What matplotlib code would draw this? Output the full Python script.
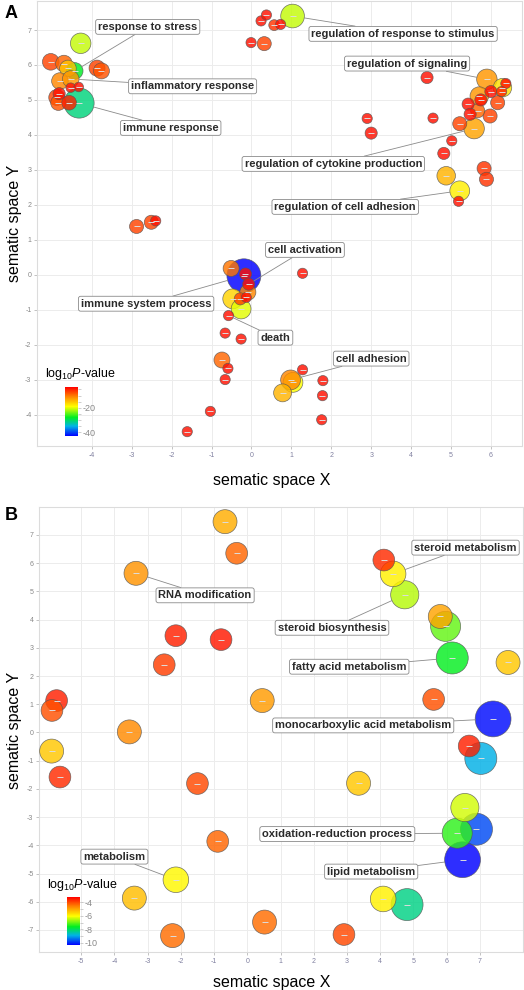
import numpy as np
import matplotlib
matplotlib.use("Agg")
import matplotlib.pyplot as plt
from matplotlib.colors import LinearSegmentedColormap

plt.rcParams['font.family'] = ['Liberation Sans', 'DejaVu Sans']
plt.rcParams['mathtext.fontset'] = 'custom'
plt.rcParams['mathtext.rm'] = 'Liberation Sans'
plt.rcParams['mathtext.it'] = 'Liberation Sans:italic'
plt.rcParams['axes.unicode_minus'] = False

# ---- Panel A data (semantic x, semantic y, log10 p, log size) ----
A_x = [-4.28, -5.03, -4.70, -4.43, -4.60, -4.80, -4.53, -4.53, -4.33, -3.87,
       -3.76, -4.88, -4.82, -4.84, -4.57, -4.32, -2.88, -2.51, -2.40, 0.24,
       0.375, 0.57, 0.73, 1.03, -0.01, 0.32, 4.40, 5.90, 6.29, 6.375,
       5.71, 6.00, 6.27, 5.75, 6.17, 5.43, 5.48, 5.98, 5.67, 5.22,
       5.58, 2.90, 3.00, 4.55, 5.02, 4.82, 4.88, 5.83, 5.89, 5.22,
       5.19, -0.19, -0.51, -0.15, -0.07, -0.09, -0.47, -0.26, -0.28, -0.13,
       -0.575, -0.66, -0.26, -0.74, -0.59, -0.66, -1.03, -1.61, 1.28, 1.28,
       1.04, 0.98, 0.78, 1.79, 1.78, 1.76]
A_y = [6.62, 6.09, 6.04, 5.83, 5.90, 5.54, 5.60, 5.35, 5.37, 5.91,
       5.83, 5.07, 5.18, 4.92, 4.92, 4.91, 1.38, 1.50, 1.54, 7.26,
       7.43, 7.14, 7.16, 7.40, 6.64, 6.61, 5.64, 5.59, 5.35, 5.47,
       5.11, 5.24, 5.24, 5.00, 4.92, 4.88, 4.59, 4.54, 4.69, 4.32,
       4.18, 4.47, 4.05, 4.48, 3.83, 3.47, 2.83, 3.04, 2.73, 2.40,
       2.10, -0.03, 0.18, 0.02, -0.27, -0.50, -0.69, -0.98, -0.69, -0.65,
       -1.17, -1.67, -1.84, -2.44, -2.68, -3.00, -3.91, -4.49, 0.04, -2.72,
       -3.08, -3.01, -3.38, -3.03, -3.46, -4.15]
A_logp = [-21, -7, -9, -28, -15, -11, -12, -4, -4, -7,
          -8, -7, -4, -8, -5, -31, -7, -7, -4, -4,
          -4, -6, -4, -21, -4, -7, -4, -12, -17, -4,
          -12, -4, -5, -4, -7, -4, -4, -7, -9, -7,
          -13, -4, -4, -4, -4, -4, -14, -6, -6, -18,
          -4, -43, -10, -4, -4, -11, -16, -20, -7, -4,
          -4, -4, -4, -9, -4, -4, -4, -4, -4, -4,
          -19, -11, -14, -4, -4, -4]
A_size = [3.2, 2.6, 2.6, 2.6, 2.6, 2.6, 2.6, 1.5, 1.5, 2.5,
          2.5, 2.5, 1.9, 2.4, 2.3, 4.7, 2.2, 2.2, 1.6, 1.6,
          1.6, 1.7, 1.6, 3.7, 1.6, 2.2, 1.9, 3.2, 2.9, 1.6,
          2.9, 1.9, 1.6, 1.9, 2.2, 1.9, 1.9, 2.2, 2.2, 2.2,
          3.2, 1.6, 1.9, 1.6, 1.6, 1.9, 2.9, 2.2, 2.2, 3.1,
          1.6, 5.3, 2.5, 1.9, 1.9, 2.5, 3.1, 3.1, 1.9, 1.6,
          1.6, 1.6, 1.6, 2.5, 1.6, 1.6, 1.6, 1.6, 1.6, 1.6,
          3.1, 3.1, 2.8, 1.6, 1.6, 1.6]

A_labels = ['response to stress', 'inflammatory response', 'immune response',
            'regulation of response to stimulus', 'regulation of signaling',
            'regulation of cytokine production', 'regulation of cell adhesion',
            'cell activation', 'immune system process', 'death', 'cell adhesion']
A_label_x = [-2.6, -1.475, -2.025, 3.8, 3.9, 2.05, 2.35, 1.34, -2.64, 0.6, 3.0]
A_label_y = [7.09, 5.39, 4.2, 6.89, 6.04, 3.17, 1.94, 0.71, -0.83, -1.8, -2.4]
A_label_target = [3, 6, 15, 23, 27, 40, 49, 54, 51, 60, 71]

# ---- Panel B data ----
B_x = [-0.67, -0.32, -3.35, -2.15, -0.79, -2.50, -5.74, -5.88, -3.55, -5.89,
       0.45, -5.64, -1.50, -0.89, -2.15, -3.40, -2.25, 0.52, 7.03, 6.68,
       3.35, 6.90, 6.32, 6.55, 6.48, 4.09, 4.81, 2.91, 4.11, 4.74,
       4.39, 5.97, 5.81, 6.17, 7.85, 5.61, 7.40]
B_y = [7.47, 6.35, 5.64, 3.43, 3.29, 2.40, 1.13, 0.78, 0.02, -0.66,
       1.13, -1.58, -1.81, -3.86, -5.22, -5.87, -7.20, -6.72, -0.92, -0.48,
       -1.80, -3.43, -3.57, -2.66, -4.51, -5.90, -6.10, -7.16, 6.11, 4.88,
       5.62, 3.76, 4.11, 2.64, 2.48, 1.17, 0.48]
B_logp = [-5.1, -4.3, -4.8, -3.6, -3.5, -3.9, -3.6, -4.1, -4.7, -5.4,
          -4.9, -3.7, -4.0, -4.3, -6.0, -5.3, -4.4, -4.4, -8.9, -3.6,
          -5.4, -9.7, -7.35, -6.35, -10.3, -5.9, -8.25, -4.0, -3.7, -6.5,
          -5.9, -7.0, -5.0, -7.6, -5.4, -4.1, -10.2]
B_size = [3.75, 3.4, 3.75, 3.4, 3.4, 3.4, 3.4, 3.4, 3.75, 3.75,
          3.75, 3.4, 3.4, 3.4, 4.0, 3.75, 3.75, 3.75, 5.0, 3.4,
          3.75, 5.0, 4.7, 4.4, 5.6, 4.0, 5.0, 3.4, 3.4, 4.4,
          4.0, 4.7, 3.75, 5.0, 3.75, 3.4, 5.6]

B_labels = ['RNA modification', 'steroid metabolism', 'steroid biosynthesis',
            'fatty acid metabolism', 'monocarboxylic acid metabolism',
            'oxidation-reduction process', 'lipid metabolism', 'metabolism']
B_label_x = [-1.27, 6.57, 2.55, 3.07, 3.49, 2.71, 3.73, -4.0]
B_label_y = [4.86, 6.55, 3.71, 2.33, 0.25, -3.6, -4.93, -4.4]
B_label_target = [2, 30, 29, 33, 36, 22, 24, 14]

cmap = LinearSegmentedColormap.from_list(
    'pval', [(0.0, '#0000ff'), (0.2, '#00b4e6'), (0.38, '#00ee22'),
             (0.6, '#ffff00'), (0.8, '#ff8800'), (1.0, '#ff0000')])

W, H = 524, 990
fig = plt.figure(figsize=(W / 100, H / 100), dpi=100)


def px_radius(ls):
    return 3.2 * np.asarray(ls)


def bubble_panel(ax, x, y, logp, size, vmin, vmax, labels, lx, ly, targets):
    x = np.asarray(x); y = np.asarray(y)
    logp = np.asarray(logp); size = np.asarray(size)
    order = np.argsort(-size, kind='stable')
    r_pt = px_radius(size) * 0.72
    ax.scatter(x[order], y[order], s=(2 * r_pt[order]) ** 2, c=logp[order],
               cmap=cmap, vmin=vmin, vmax=vmax, alpha=0.82,
               edgecolors='#555555', linewidths=0.5, zorder=3)
    ax.scatter(x, y, marker='_', s=14, c='#dddddd', linewidths=0.7, zorder=4)
    for t, tx, ty, i in zip(labels, lx, ly, targets):
        ax.annotate(t, xy=(x[i], y[i]), xytext=(tx, ty), ha='center', va='center',
                    fontsize=8, fontweight='bold', color='#2a2a2a', zorder=6,
                    bbox=dict(boxstyle='round,pad=0.22,rounding_size=0.2', fc='white',
                              ec='#8a8a8a', lw=0.6),
                    arrowprops=dict(arrowstyle='-', color='#8a8a8a', lw=0.6,
                                    shrinkA=0, shrinkB=r_pt[i]))


def style_axes(ax, xlim, ylim, xticks, yticks):
    ax.set_xlim(*xlim)
    ax.set_ylim(*ylim)
    ax.set_xticks(xticks)
    ax.set_yticks(yticks)
    ax.grid(True, color='#ececec', lw=0.7, zorder=0)
    ax.set_axisbelow(True)
    for s in ax.spines.values():
        s.set_color('#dcdcdc')
        s.set_linewidth(0.8)
    ax.tick_params(axis='both', length=2, width=0.5, color='#aaaaaa', labelsize=5, pad=2)
    ax.tick_params(axis='x', labelcolor='#8080a0')
    ax.tick_params(axis='y', labelcolor='#888888')


def colorbar(sm_vmin, sm_vmax, rect, major, minor, title_xy):
    cax = fig.add_axes(rect)
    sm = plt.cm.ScalarMappable(cmap=cmap, norm=plt.Normalize(sm_vmin, sm_vmax))
    cb = fig.colorbar(sm, cax=cax)
    cb.outline.set_visible(False)
    cb.set_ticks(major)
    cb.set_ticklabels([str(v) for v in major])
    cax.set_yticks(minor, minor=True)
    cax.tick_params(which='both', length=2, width=0.5, color='#bbbbbb',
                    labelsize=6.5, labelcolor='#888888', pad=1)
    fig.text(title_xy[0] / W, 1 - title_xy[1] / H, r'log$_{10}$$\it{P}$-value',
             fontsize=9, ha='left', va='center')


# ---- Panel A ----
axA = fig.add_axes([37 / W, 1 - 446 / H, 485 / W, 445 / H])
style_axes(axA, (-5.375, 6.78), (-4.9, 7.83), range(-4, 7), range(-4, 8))
bubble_panel(axA, A_x, A_y, A_logp, A_size, -43, -3,
             A_labels, A_label_x, A_label_y, A_label_target)
colorbar(-43, -3, [65 / W, 1 - 436 / H, 13 / W, 49 / H], [-20, -40],
         np.arange(-40, -4, 5), (45, 374))

# ---- Panel B ----
axB = fig.add_axes([39 / W, 1 - 952 / H, 484 / W, 445 / H])
style_axes(axB, (-6.27, 8.3), (-7.78, 7.99), range(-5, 8), range(-7, 8))
bubble_panel(axB, B_x, B_y, B_logp, B_size, -10.3, -3.25,
             B_labels, B_label_x, B_label_y, B_label_target)
colorbar(-10.3, -3.25, [67 / W, 1 - 945 / H, 13 / W, 48 / H], [-4, -6, -8, -10],
         np.arange(-10, -3, 1), (47, 885))

# axis titles and panel letters
for yx, yy, xx, xy in [(15, 223, 272, 480), (15, 730, 272, 983)]:
    fig.text(yx / W, 1 - yy / H, 'sematic space Y', rotation=90, fontsize=11.5,
             ha='center', va='center')
    fig.text(xx / W, 1 - xy / H, 'sematic space X', fontsize=11.5,
             ha='center', va='center')
fig.text(11 / W, 1 - 13 / H, 'A', fontsize=13, fontweight='bold', ha='center', va='center')
fig.text(11 / W, 1 - 516 / H, 'B', fontsize=13, fontweight='bold', ha='center', va='center')

fig.savefig('out.png', dpi=100)
